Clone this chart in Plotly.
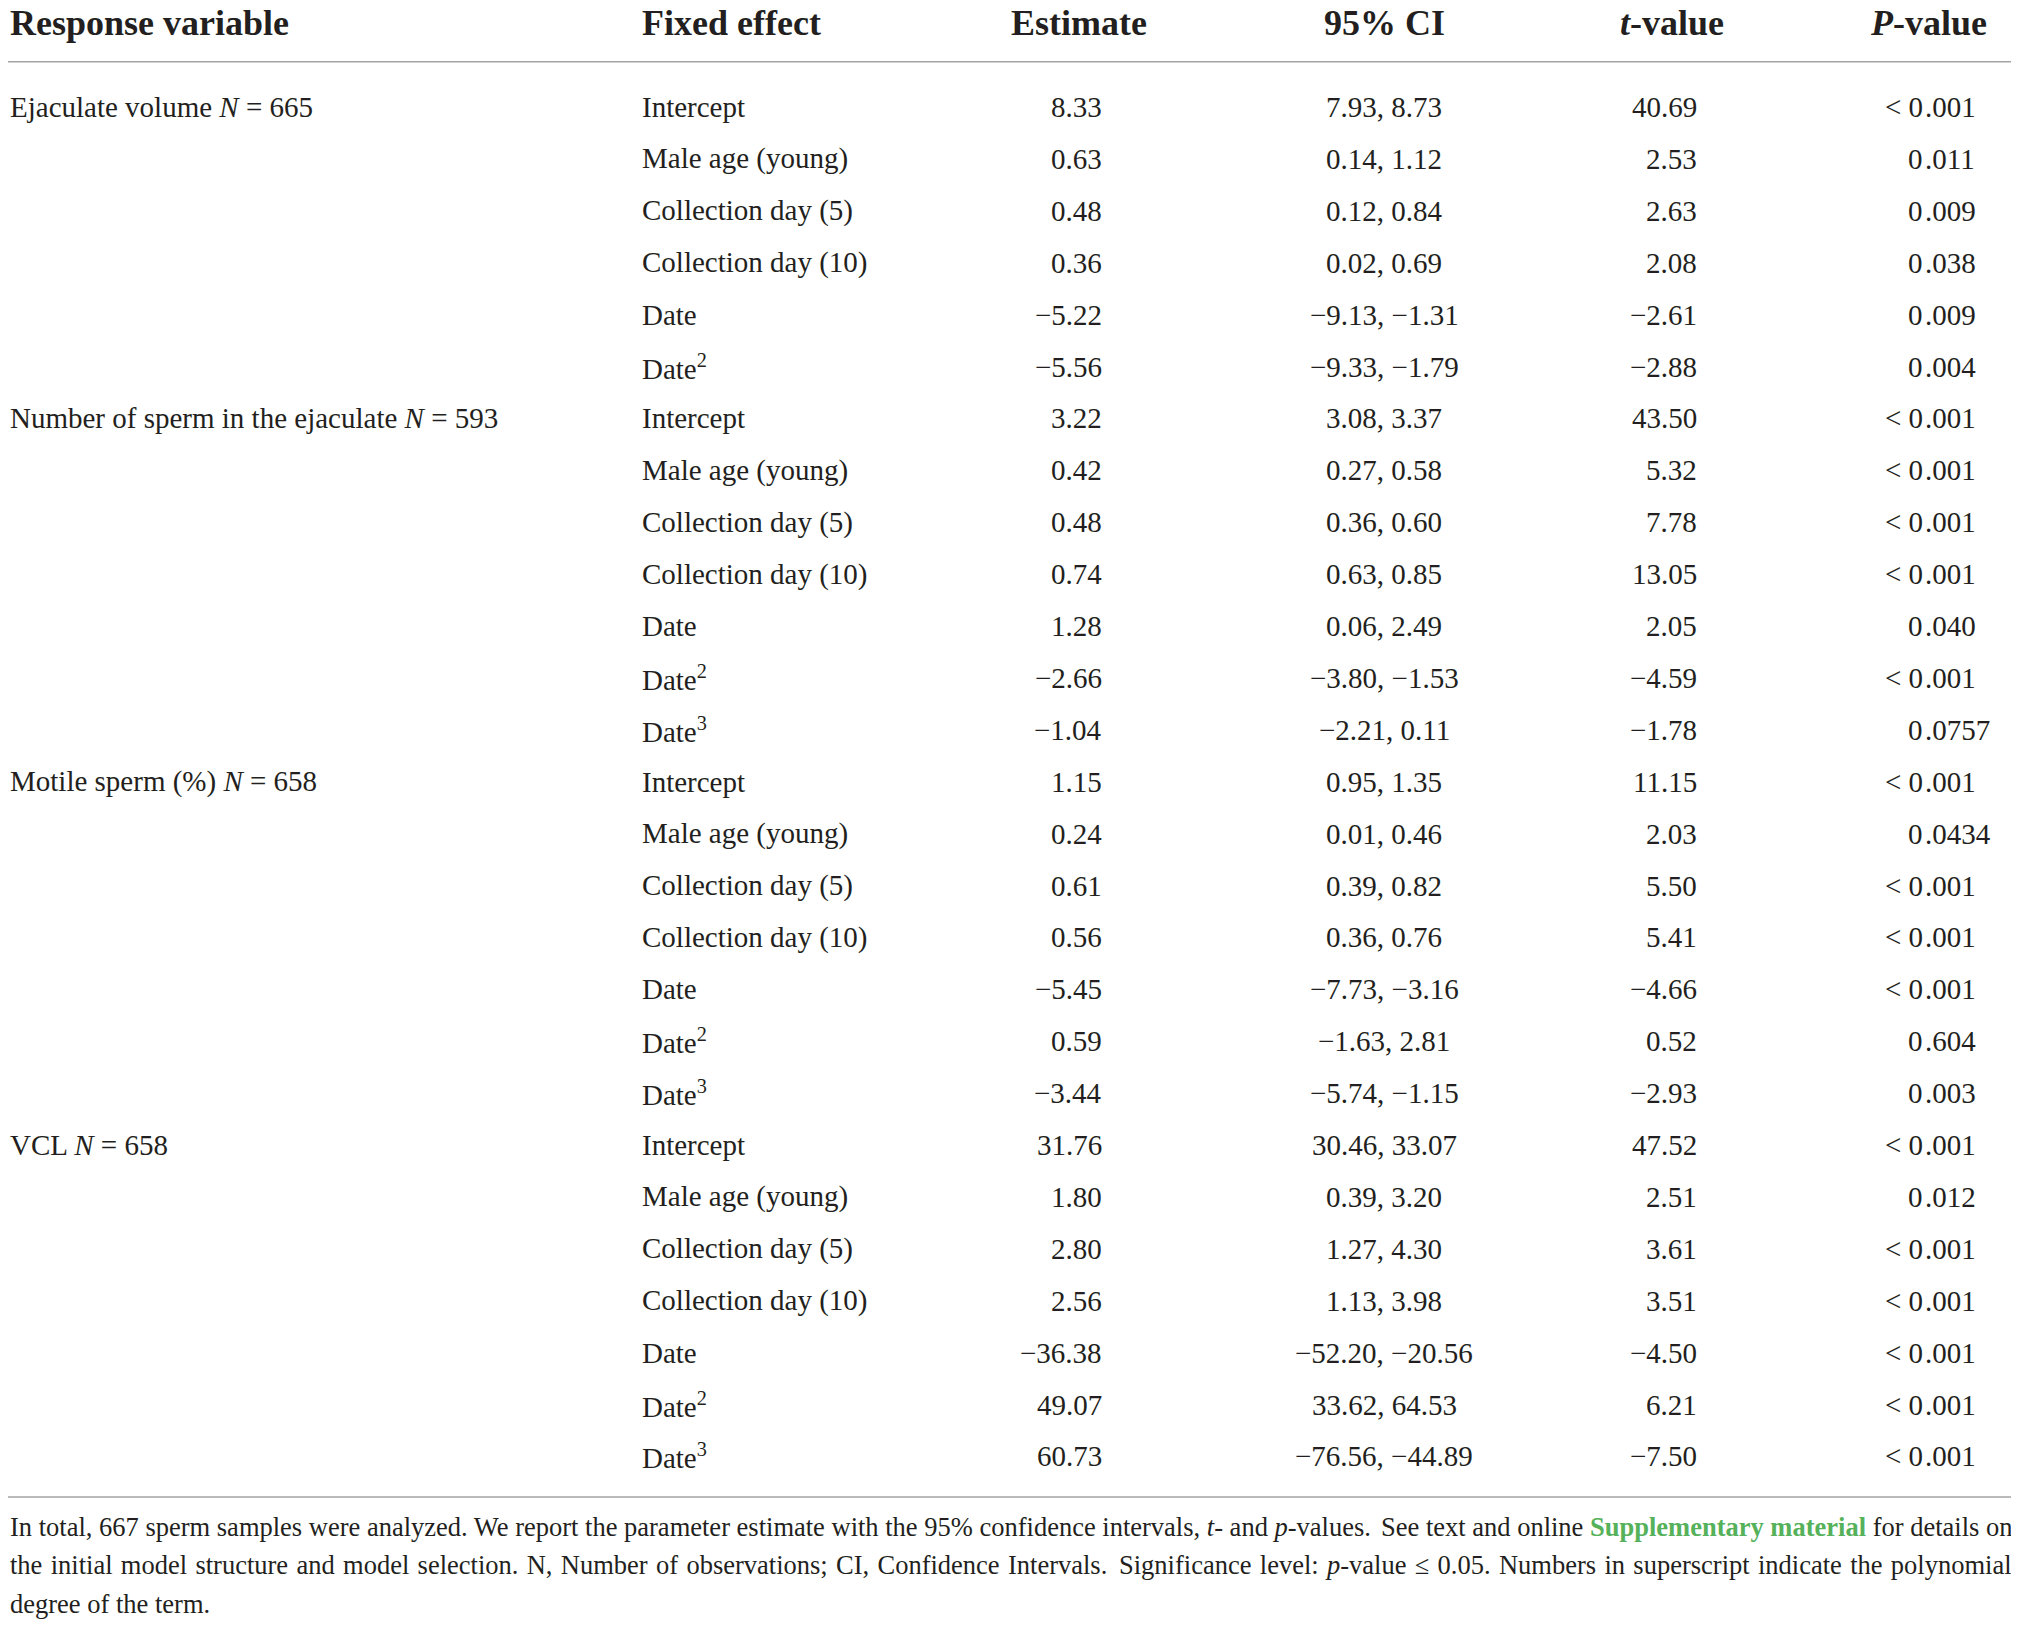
import plotly.graph_objects as go

# Table content
responses = ["Ejaculate volume <i>N</i> = 665",
             "Number of sperm in the ejaculate <i>N</i> = 593",
             "Motile sperm (%) <i>N</i> = 658",
             "VCL <i>N</i> = 658"]
n_terms = [6, 7, 7, 7]

effects = ["Intercept", "Male age (young)", "Collection day (5)", "Collection day (10)", "Date", "Date<sup>2</sup>",
           "Intercept", "Male age (young)", "Collection day (5)", "Collection day (10)", "Date", "Date<sup>2</sup>", "Date<sup>3</sup>",
           "Intercept", "Male age (young)", "Collection day (5)", "Collection day (10)", "Date", "Date<sup>2</sup>", "Date<sup>3</sup>",
           "Intercept", "Male age (young)", "Collection day (5)", "Collection day (10)", "Date", "Date<sup>2</sup>", "Date<sup>3</sup>"]
estimates = [8.33, 0.63, 0.48, 0.36, -5.22, -5.56,
             3.22, 0.42, 0.48, 0.74, 1.28, -2.66, -1.04,
             1.15, 0.24, 0.61, 0.56, -5.45, 0.59, -3.44,
             31.76, 1.80, 2.80, 2.56, -36.38, 49.07, 60.73]
ci_low = [7.93, 0.14, 0.12, 0.02, -9.13, -9.33,
          3.08, 0.27, 0.36, 0.63, 0.06, -3.80, -2.21,
          0.95, 0.01, 0.39, 0.36, -7.73, -1.63, -5.74,
          30.46, 0.39, 1.27, 1.13, -52.20, 33.62, -76.56]
ci_high = [8.73, 1.12, 0.84, 0.69, -1.31, -1.79,
           3.37, 0.58, 0.60, 0.85, 2.49, -1.53, 0.11,
           1.35, 0.46, 0.82, 0.76, -3.16, 2.81, -1.15,
           33.07, 3.20, 4.30, 3.98, -20.56, 64.53, -44.89]
t_values = [40.69, 2.53, 2.63, 2.08, -2.61, -2.88,
            43.50, 5.32, 7.78, 13.05, 2.05, -4.59, -1.78,
            11.15, 2.03, 5.50, 5.41, -4.66, 0.52, -2.93,
            47.52, 2.51, 3.61, 3.51, -4.50, 6.21, -7.50]
p_values = ["< 0.001", "0.011", "0.009", "0.038", "0.009", "0.004",
            "< 0.001", "< 0.001", "< 0.001", "< 0.001", "0.040", "< 0.001", "0.0757",
            "< 0.001", "0.0434", "< 0.001", "< 0.001", "< 0.001", "0.604", "0.003",
            "< 0.001", "0.012", "< 0.001", "< 0.001", "< 0.001", "< 0.001", "< 0.001"]

headers = ["Response variable", "Fixed effect", "Estimate", "95% CI", "<i>t</i>-value", "<i>P</i>-value"]

# footer note, each justified line split in a left and a right half
footer_lines = [
    ("In total, 667 sperm samples were analyzed. We report the parameter estimate with the 95% confidence "
     "intervals, <i>t</i>- and <i>p</i>-values.",
     "See text and online <span style='color:#55b15a'><b>Supplementary material</b></span> for details on"),
    ("the initial model structure and model selection. N, Number of observations; CI, Confidence Intervals.",
     "Significance level: <i>p</i>-value \u2264 0.05. Numbers in superscript indicate the polynomial"),
    ("degree of the term.", ""),
]
footer_spacing = [0, 1.7, 0]  # extra word spacing to fake the justification

FONT = "Liberation Serif"
INK = "#231f20"
RULE = "#a3a3a3"

# column anchors (page pixels; the page body has an 8px margin)
X_RESP, X_EFF, X_EST, X_CI, X_T, X_PDEC = 9, 641, 1103, 1384, 1698, 1924
X_LEFT, X_RIGHT = 9, 2013
X_HEAD = [(9, "left"), (641, "left"), (1079, "center"), (1384, "center"), (1672, "center"), (1928, "center")]

# vertical positions in row units
Y_HEAD, Y_RULE_TOP, Y_RULE_BOT = -1.62, -0.87, 26.78
Y_FOOT = [27.36, 28.09, 28.84]


def num(v):
    return f"{v:.2f}".replace("-", "\u2212")


anns = []


def add(text, x, y, anchor, size=29):
    anns.append(dict(text=text, x=x, y=y, xref="x", yref="y", xanchor=anchor, yanchor="middle",
                     showarrow=False, borderpad=0, font=dict(family=FONT, size=size, color=INK)))


for (hx, ha), h in zip(X_HEAD, headers):
    add(f"<b>{h}</b>", hx, Y_HEAD, ha, size=36)

start = 0
for resp, n in zip(responses, n_terms):
    add(resp, X_RESP, start, "left")
    start += n

for i in range(len(effects)):
    add(effects[i], X_EFF, i, "left")
    add(num(estimates[i]), X_EST, i, "right")
    add(f"{num(ci_low[i])}, {num(ci_high[i])}", X_CI, i, "center")
    add(num(t_values[i]), X_T, i, "right")
    whole, frac = p_values[i].split(".")
    add(whole, X_PDEC, i, "right")
    add("." + frac, X_PDEC, i, "left")

for y, (left, right), ws in zip(Y_FOOT, footer_lines, footer_spacing):
    if ws:
        left = f"<span style='word-spacing:{ws}px'>{left}</span>"
        right = f"<span style='word-spacing:{ws}px'>{right}</span>"
    add(left, X_LEFT, y, "left", size=26.5)
    if right:
        add(right, X_RIGHT, y, "right", size=26.5)

W, H = 2011, 1617
ROW_PX = 51.9
r_top = -(107 - 8) / ROW_PX

fig = go.Figure()
fig.update_layout(
    width=W, height=H,
    margin=dict(l=0, r=0, t=0, b=0),
    paper_bgcolor="white", plot_bgcolor="white",
    xaxis=dict(range=[8, 8 + W], visible=False, fixedrange=True),
    yaxis=dict(range=[r_top + H / ROW_PX, r_top], visible=False, fixedrange=True),
    annotations=anns,
    shapes=[
        dict(type="line", xref="paper", yref="y", x0=0, x1=1, y0=Y_RULE_TOP, y1=Y_RULE_TOP,
             line=dict(color=RULE, width=1.5)),
        dict(type="line", xref="paper", yref="y", x0=0, x1=1, y0=Y_RULE_BOT, y1=Y_RULE_BOT,
             line=dict(color=RULE, width=1.5)),
    ],
    showlegend=False,
)

fig.write_html("out.html")
